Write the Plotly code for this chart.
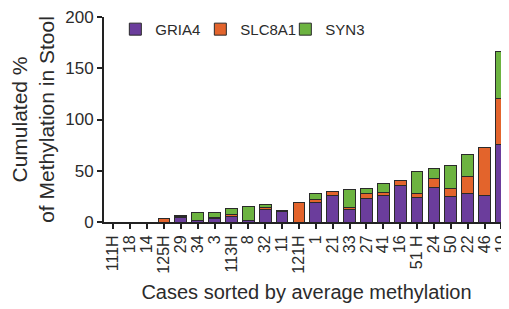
import plotly.graph_objects as go

cases = ["111H", "18", "14", "125H", "29", "34", "3", "113H", "8", "32", "11", "121H",
         "1", "21", "33", "27", "41", "16", "51 H", "24", "50", "22", "46", "19"]
gria4 = [0, 0, 0, 0, 4.8, 1.3, 3.2, 5.8, 1.6, 12.6, 10.3, 0,
         19, 26, 12.3, 22.8, 25.4, 35.2, 24.3, 34, 25, 27.8, 26.2, 75.8]
slc8a1 = [0, 0, 0, 3.2, 1, 0.5, 1.5, 1.2, 0.3, 1.4, 1.3, 19,
          3, 3.5, 1.5, 4.8, 3.2, 5.4, 3.6, 8.2, 7.6, 16.6, 46.4, 44.6]
syn3 = [0, 0, 0, 0, 1, 7, 4.5, 6, 12.9, 3.1, 0, 0,
        5.6, 0, 17.6, 5.3, 9, 0, 21.2, 9.6, 22.3, 21.9, 0, 46.4]

colors = {"GRIA4": "#6B3D9C", "SLC8A1": "#E3642C", "SYN3": "#6CB340"}
font = "Liberation Sans, Arial, sans-serif"
txt = "#2b2b2b"

fig = go.Figure()
for name, vals in [("GRIA4", gria4), ("SLC8A1", slc8a1), ("SYN3", syn3)]:
    fig.add_trace(go.Bar(
        x=cases, y=vals, name=name,
        marker=dict(color=colors[name], line=dict(color="#2a2a2a", width=1)),
    ))

fig.update_layout(
    barmode="stack",
    bargap=0.3,
    width=501, height=301,
    margin=dict(l=96, r=0, t=9, b=87, autoexpand=False),
    paper_bgcolor="white", plot_bgcolor="white",
    font=dict(family=font, size=15, color=txt),
    showlegend=True,
    legend=dict(orientation="h", x=0.028, y=1.02, xanchor="left", yanchor="top",
                font=dict(size=15, color=txt), itemwidth=30,
                entrywidth=40, entrywidthmode="pixels",
                traceorder="normal", bgcolor="rgba(0,0,0,0)"),
)
fig.update_xaxes(
    type="category", range=[-0.55, 23.45],
    tickmode="array", tickvals=cases, ticktext=cases,
    showline=True, linecolor="#222", linewidth=2,
    ticks="outside", ticklen=5, tickwidth=1.5, tickcolor="#222",
    tickangle=-90, tickfont=dict(size=16, color=txt),
    title=dict(text="Cases sorted by average methylation", font=dict(size=20, color=txt), standoff=12),
    showgrid=False, automargin=False,
)
fig.update_yaxes(
    range=[0, 200], tickvals=[0, 50, 100, 150, 200],
    showline=True, linecolor="#222", linewidth=2,
    ticks="outside", ticklen=5, tickwidth=1.5, tickcolor="#222",
    tickfont=dict(size=17, color=txt), ticklabeloverflow="allow",
    title=dict(text="Cumulated %<br>of Methylation in Stool", font=dict(size=21, color=txt), standoff=8),
    showgrid=False, zeroline=False, automargin=False,
)

fig.write_html("out.html")
